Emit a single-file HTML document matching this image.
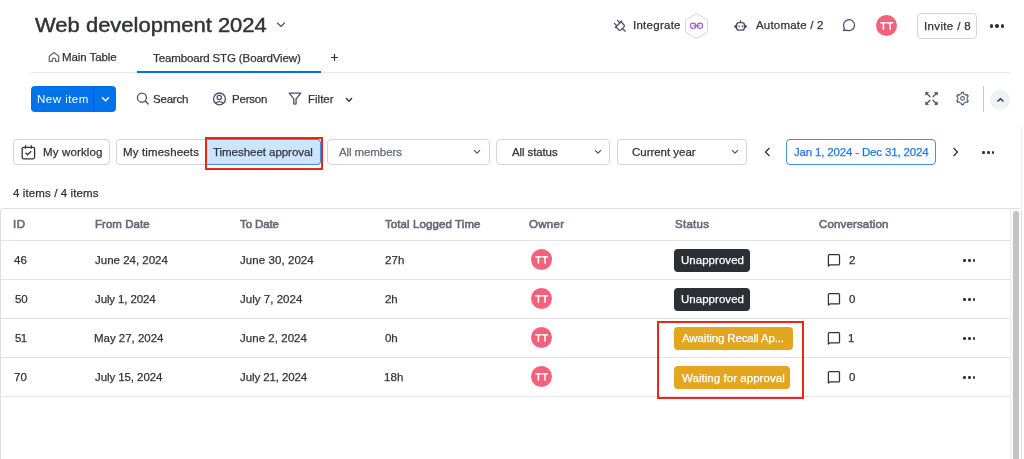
<!DOCTYPE html>
<html><head><meta charset="utf-8">
<style>
*{box-sizing:border-box;margin:0;padding:0}
html,body{width:1024px;height:459px;overflow:hidden;background:#fff;font-family:"Liberation Sans",sans-serif;color:#323338}
.a{position:absolute}
.tx{will-change:transform;position:absolute;white-space:nowrap;line-height:30px;height:30px;-webkit-text-stroke:0.25px currentColor}
svg{position:absolute;overflow:visible}
.box{position:absolute;border:1px solid #d2d5e0;border-radius:4px;background:#fff}
.badge{position:absolute;border-radius:4px;height:23px}
.av{position:absolute;width:21px;height:21px;border-radius:50%;background:#f2627c}
.hl{position:absolute;left:1px;width:1009px;height:1px;background:#e0e2eb}
.dots{position:absolute}
.dots i{position:absolute;width:2.7px;height:2.7px;border-radius:50%;background:#323338;top:0}
</style></head><body>

<!-- Title chevron -->
<svg style="left:276px;top:21px" width="10" height="7" viewBox="0 0 10 7"><path d="M1.2 1.8 L5 5.4 L8.8 1.8" fill="none" stroke="#4b4e69" stroke-width="1.3"/></svg>

<!-- Top right -->
<svg style="left:611px;top:17px" width="18" height="18" viewBox="0 0 18 18"><g fill="none" stroke="#4b4e69" stroke-width="1.25" stroke-linecap="round" stroke-linejoin="round"><path d="M4.4 10.5 L10.6 4.0"/><path d="M9.9 4.7 L12.9 7.7 Q13.9 8.9 12.9 10.1 L10.2 12.8 Q9 13.9 7.8 12.9 L4.9 10.0"/><path d="M6.4 3.4 L8.3 5.3"/><path d="M3.4 6.4 L5.3 8.3"/><path d="M11.7 11.7 L14.2 14.2"/></g></svg>
<svg style="left:685px;top:13px" width="24" height="26" viewBox="0 0 24 26"><path d="M11.5 0.6 L22.4 6.8 L22.4 19.2 L11.5 25.4 L0.6 19.2 L0.6 6.8z" fill="#fff" stroke="#d5d3ec" stroke-width="1"/><g fill="none" stroke="#a358df" stroke-width="1.1"><circle cx="8.1" cy="12.8" r="2.7"/><circle cx="14.9" cy="12.8" r="2.7"/><path d="M8.1 12.8 H14.9"/></g></svg>
<svg style="left:730px;top:17px" width="20" height="18" viewBox="0 0 20 18"><g fill="none" stroke="#4b4e69" stroke-width="1.35"><rect x="6.6" y="5.6" width="7.8" height="7.5" rx="2.4"/><path d="M10.5 3.3 V5.5"/></g><path d="M6 7.8 Q4.2 8 4.2 9.45 Q4.2 10.9 6 11.1 Z M15 7.8 Q16.9 8 16.9 9.45 Q16.9 10.9 15 11.1 Z" fill="#4b4e69"/><ellipse cx="9.2" cy="9.3" rx="0.7" ry="1.15" fill="#4b4e69"/><ellipse cx="12.3" cy="9.3" rx="0.7" ry="1.15" fill="#4b4e69"/></svg>
<svg style="left:838px;top:15px" width="22" height="21" viewBox="0 0 22 21"><path d="M6.4 13.1 A5.5 5.5 0 1 1 8.6 15.1 L5.6 15.6 Z" fill="none" stroke="#4b4e69" stroke-width="1.25" stroke-linejoin="round"/></svg>
<div class="av" style="left:876px;top:15px;"></div>
<svg style="left:876px;top:15px" width="21" height="21" viewBox="0 0 21 21"><g fill="#fff"><rect x="4.3" y="7.1" width="6.2" height="1.5"/><rect x="6.65" y="7.1" width="1.55" height="7.6"/><rect x="10.9" y="7.1" width="6.2" height="1.5"/><rect x="13.25" y="7.1" width="1.55" height="7.6"/></g></svg>
<div class="box" style="left:917px;top:13px;width:60px;height:26px;"></div>
<div class="dots" style="left:989.8px;top:24.3px"><i style="left:0;width:3.3px;height:3.3px"></i><i style="left:5.7px;width:3.3px;height:3.3px"></i><i style="left:11.4px;width:3.3px;height:3.3px"></i></div>

<!-- Tabs -->
<svg style="left:44px;top:48px" width="20" height="18" viewBox="0 0 20 18"><path d="M5.3 13.3 V8.3 L10 4.6 L14.7 8.3 V13.3 H11.6 V11.4 Q11.6 10.1 10 10.1 Q8.4 10.1 8.4 11.4 V13.3 Z" fill="none" stroke="#676879" stroke-width="1.3" stroke-linejoin="round"/></svg>
<svg style="left:331px;top:54px" width="7" height="7" viewBox="0 0 7 7"><path d="M3.5 0 V7 M0 3.5 H7" stroke="#323338" stroke-width="1.2"/></svg>
<div class="a" style="left:31px;top:72px;width:979px;height:1px;background:#e6e9ef"></div>
<div class="a" style="left:137px;top:71px;width:184px;height:2px;background:#0073ea"></div>

<!-- Toolbar -->
<div class="a" style="left:31px;top:86px;width:85px;height:26px;background:#0073ea;border-radius:4px"></div>
<div class="a" style="left:93px;top:86px;width:1px;height:26px;background:#0060b9"></div>
<svg style="left:101px;top:96px" width="9" height="6" viewBox="0 0 9 6"><path d="M1 1.2 L4.5 4.7 L8 1.2" fill="none" stroke="#fff" stroke-width="1.5"/></svg>

<svg style="left:132px;top:88px" width="20" height="20" viewBox="0 0 20 20"><g fill="none" stroke="#4b4e69" stroke-width="1.3" stroke-linecap="round"><circle cx="9.9" cy="9.7" r="4.5"/><path d="M13.2 13 L16.2 16"/></g></svg>
<svg style="left:208px;top:88px" width="22" height="22" viewBox="0 0 22 22"><g fill="none" stroke="#4b4e69" stroke-width="1.3"><circle cx="11.5" cy="10.9" r="5.9"/><circle cx="11.25" cy="9.5" r="2.1"/><path d="M7.6 15.2 Q11.3 12.2 15.2 15.2"/></g></svg>
<svg style="left:285px;top:88px" width="22" height="22" viewBox="0 0 22 22"><path d="M4.2 5.1 H15.8 L11.1 10.8 V15.6 Q11.1 16.2 9.95 16.2 Q8.8 16.2 8.8 15.6 V10.8 Z" fill="none" stroke="#4b4e69" stroke-width="1.3" stroke-linejoin="round"/></svg>
<svg style="left:345px;top:97px" width="8" height="6" viewBox="0 0 8 6"><path d="M1 1 L4 4.2 L7 1" fill="none" stroke="#323338" stroke-width="1.3"/></svg>

<svg style="left:924.8px;top:92.1px" width="13" height="13" viewBox="0 0 12.2 12.65"><g stroke="#4b4e69" stroke-width="1.2" stroke-linecap="round"><path d="M1.5 1.5 L4.6 4.6 M10.7 1.5 L7.6 4.6 M1.5 11.15 L4.6 8.05 M10.7 11.15 L7.6 8.05"/></g><g fill="#4b4e69" stroke="#4b4e69" stroke-width="0.5" stroke-linejoin="round"><path d="M0.3 0.3 H3.2 L0.3 3.2Z M11.9 0.3 H9 L11.9 3.2Z M0.3 12.35 H3.2 L0.3 9.45Z M11.9 12.35 H9 L11.9 9.45Z"/></g></svg>
<svg style="left:955.8px;top:92.1px" width="13" height="13" viewBox="0 0 12.2 12.6"><g fill="none" stroke="#5f6278" stroke-width="1.1" stroke-linejoin="round"><path d="M3.75 2.23 L5.04 1.72 L5.16 0.37 L7.04 0.37 L7.16 1.72 L8.45 2.23 L9.54 3.09 L10.76 2.52 L11.70 4.15 L10.59 4.93 L10.80 6.30 L10.59 7.67 L11.70 8.45 L10.76 10.08 L9.54 9.51 L8.45 10.37 L7.16 10.88 L7.04 12.23 L5.16 12.23 L5.04 10.88 L3.75 10.37 L2.66 9.51 L1.44 10.08 L0.50 8.45 L1.61 7.67 L1.40 6.30 L1.61 4.93 L0.50 4.15 L1.44 2.52 L2.66 3.09 Z"/><circle cx="6.1" cy="6.3" r="1.8"/></g></svg>
<div class="a" style="left:983px;top:86px;width:1px;height:26px;background:#c3c6d4"></div>
<div class="a" style="left:990px;top:89.5px;width:20px;height:20px;border-radius:50%;background:#f0f1f6"></div>
<svg style="left:996px;top:97px" width="9" height="6" viewBox="0 0 9 6"><path d="M1.5 4.6 L4.5 1.7 L7.5 4.6" fill="none" stroke="#323338" stroke-width="1.4"/></svg>

<!-- Filters row -->
<div class="box" style="left:13px;top:139.2px;width:97px;height:26.2px;"></div>
<svg style="left:21px;top:145px" width="15" height="15" viewBox="0 0 15 15"><g fill="none" stroke="#323338" stroke-width="1.3"><rect x="1.2" y="2.3" width="12.4" height="11.5" rx="1.5"/><path d="M4.5 0.3 V3.8 M10.3 0.3 V3.8"/><path d="M4.6 7.8 L6.6 9.8 L10.2 6.2"/></g></svg>
<div class="box" style="left:116px;top:139.2px;width:100px;height:26.2px;border-right:none;border-radius:4px 0 0 4px"></div>
<div class="a" style="left:205px;top:139.2px;width:115.5px;height:26.3px;background:#cce5ff;border:1px solid #3d8ef0;border-left:none;border-radius:0 4px 4px 0"></div>
<div class="a" style="left:204.5px;top:137.3px;width:118.5px;height:33.2px;border:2px solid #ef2614"></div>

<div class="box" style="left:327px;top:139.2px;width:163px;height:26.2px;"></div>
<svg style="left:473px;top:149px" width="8" height="6" viewBox="0 0 8 6"><path d="M1 1.2 L4 4.2 L7 1.2" fill="none" stroke="#4b4e69" stroke-width="1.15"/></svg>
<div class="box" style="left:496px;top:139.2px;width:114px;height:26.2px;"></div>
<svg style="left:594px;top:149px" width="8" height="6" viewBox="0 0 8 6"><path d="M1 1.2 L4 4.2 L7 1.2" fill="none" stroke="#4b4e69" stroke-width="1.15"/></svg>
<div class="box" style="left:617px;top:139.2px;width:130px;height:26.2px;"></div>
<svg style="left:731px;top:149px" width="8" height="6" viewBox="0 0 8 6"><path d="M1 1.2 L4 4.2 L7 1.2" fill="none" stroke="#4b4e69" stroke-width="1.15"/></svg>
<svg style="left:764px;top:147px" width="7" height="10" viewBox="0 0 7 10"><path d="M5.5 1 L1.5 5 L5.5 9" fill="none" stroke="#323338" stroke-width="1.3"/></svg>
<div class="a" style="left:786.3px;top:139px;width:149.3px;height:26px;border:1px solid #4190ee;border-radius:4px"></div>
<svg style="left:952px;top:147px" width="7" height="10" viewBox="0 0 7 10"><path d="M1.5 1 L5.5 5 L1.5 9" fill="none" stroke="#323338" stroke-width="1.3"/></svg>
<div class="dots" style="left:982.1px;top:151.1px"><i style="left:0"></i><i style="left:4.8px"></i><i style="left:9.6px"></i></div>

<!-- Table -->
<div class="a" style="left:1021px;top:126px;width:1px;height:82px;background:#f0f0f2"></div>
<div class="a" style="left:0px;top:208px;width:1022px;height:260px;border:1px solid #dcdfe9;border-bottom:none;border-radius:4px 4px 0 0"></div>
<div class="hl" style="top:240px"></div>
<div class="hl" style="top:279px"></div>
<div class="hl" style="top:318px"></div>
<div class="hl" style="top:357px"></div>
<div class="hl" style="top:396px"></div>
<div class="a" style="left:1010px;top:209px;width:11px;height:250px;background:#fbfbfb;border-left:1px solid #ececec"></div>
<div class="a" style="left:1012.7px;top:210.5px;width:6.4px;height:260px;background:#c2c2c2;border-radius:3.2px"></div>

<div class="av" style="left:530.5px;top:249.3px"></div>
<div class="av" style="left:530.5px;top:288.3px"></div>
<div class="av" style="left:530.5px;top:327.3px"></div>
<div class="av" style="left:530.5px;top:366.3px"></div>
<svg style="left:530.5px;top:249.3px" width="21" height="21" viewBox="0 0 21 21"><g fill="#fff"><rect x="4.3" y="7.1" width="6.2" height="1.5"/><rect x="6.65" y="7.1" width="1.55" height="7.6"/><rect x="10.9" y="7.1" width="6.2" height="1.5"/><rect x="13.25" y="7.1" width="1.55" height="7.6"/></g></svg>
<svg style="left:530.5px;top:288.3px" width="21" height="21" viewBox="0 0 21 21"><g fill="#fff"><rect x="4.3" y="7.1" width="6.2" height="1.5"/><rect x="6.65" y="7.1" width="1.55" height="7.6"/><rect x="10.9" y="7.1" width="6.2" height="1.5"/><rect x="13.25" y="7.1" width="1.55" height="7.6"/></g></svg>
<svg style="left:530.5px;top:327.3px" width="21" height="21" viewBox="0 0 21 21"><g fill="#fff"><rect x="4.3" y="7.1" width="6.2" height="1.5"/><rect x="6.65" y="7.1" width="1.55" height="7.6"/><rect x="10.9" y="7.1" width="6.2" height="1.5"/><rect x="13.25" y="7.1" width="1.55" height="7.6"/></g></svg>
<svg style="left:530.5px;top:366.3px" width="21" height="21" viewBox="0 0 21 21"><g fill="#fff"><rect x="4.3" y="7.1" width="6.2" height="1.5"/><rect x="6.65" y="7.1" width="1.55" height="7.6"/><rect x="10.9" y="7.1" width="6.2" height="1.5"/><rect x="13.25" y="7.1" width="1.55" height="7.6"/></g></svg>

<div class="badge" style="left:674px;top:249px;width:76px;background:#2e2f35"></div>
<div class="badge" style="left:674px;top:288px;width:76px;background:#2e2f35"></div>
<div class="badge" style="left:674px;top:327px;width:119px;background:#e2a61f"></div>
<div class="badge" style="left:674px;top:366px;width:116px;background:#e2a61f"></div>
<div class="a" style="left:657px;top:321px;width:147px;height:78px;border:2px solid #ef2614"></div>

<svg style="left:827px;top:253px" width="14" height="14" viewBox="0 0 14 14"><path d="M1.4 13 V2.5 Q1.4 1.6 2.3 1.6 H11.6 Q12.5 1.6 12.5 2.5 V11 Q12.5 11.9 11.6 11.9 H2.8 Z" fill="none" stroke="#323338" stroke-width="1.25" stroke-linejoin="round"/></svg>
<svg style="left:827px;top:292px" width="14" height="14" viewBox="0 0 14 14"><path d="M1.4 13 V2.5 Q1.4 1.6 2.3 1.6 H11.6 Q12.5 1.6 12.5 2.5 V11 Q12.5 11.9 11.6 11.9 H2.8 Z" fill="none" stroke="#323338" stroke-width="1.25" stroke-linejoin="round"/></svg>
<svg style="left:827px;top:331px" width="14" height="14" viewBox="0 0 14 14"><path d="M1.4 13 V2.5 Q1.4 1.6 2.3 1.6 H11.6 Q12.5 1.6 12.5 2.5 V11 Q12.5 11.9 11.6 11.9 H2.8 Z" fill="none" stroke="#323338" stroke-width="1.25" stroke-linejoin="round"/></svg>
<svg style="left:827px;top:370px" width="14" height="14" viewBox="0 0 14 14"><path d="M1.4 13 V2.5 Q1.4 1.6 2.3 1.6 H11.6 Q12.5 1.6 12.5 2.5 V11 Q12.5 11.9 11.6 11.9 H2.8 Z" fill="none" stroke="#323338" stroke-width="1.25" stroke-linejoin="round"/></svg>

<div class="dots" style="left:963.2px;top:259.2px"><i style="left:0"></i><i style="left:4.8px"></i><i style="left:9.6px"></i></div>
<div class="dots" style="left:963.2px;top:298.2px"><i style="left:0"></i><i style="left:4.8px"></i><i style="left:9.6px"></i></div>
<div class="dots" style="left:963.2px;top:337.2px"><i style="left:0"></i><i style="left:4.8px"></i><i style="left:9.6px"></i></div>
<div class="dots" style="left:963.2px;top:376.2px"><i style="left:0"></i><i style="left:4.8px"></i><i style="left:9.6px"></i></div>

<div class="tx" style="left:35.10px;top:9.97px;font-size:20px;font-weight:400;color:#323338;letter-spacing:0.000px;transform:scaleX(1.0991);transform-origin:0px 0;-webkit-text-stroke:0.45px #323338;">Web development 2024</div>
<div class="tx" style="left:632.60px;top:10.32px;font-size:11.5px;font-weight:400;color:#323338;letter-spacing:0.263px;">Integrate</div>
<div class="tx" style="left:755.50px;top:10.32px;font-size:11.5px;font-weight:400;color:#323338;letter-spacing:0.191px;">Automate / 2</div>
<div class="tx" style="left:923.80px;top:10.72px;font-size:11.5px;font-weight:400;color:#323338;letter-spacing:0.356px;">Invite / 8</div>
<div class="tx" style="left:62.40px;top:42.12px;font-size:11.5px;font-weight:400;color:#323338;letter-spacing:-0.089px;">Main Table</div>
<div class="tx" style="left:153.40px;top:43.12px;font-size:11.5px;font-weight:400;color:#323338;letter-spacing:-0.121px;">Teamboard STG (BoardView)</div>
<div class="tx" style="left:36.60px;top:84.32px;font-size:11.5px;font-weight:400;color:#fff;letter-spacing:0.486px;-webkit-text-stroke:0;">New item</div>
<div class="tx" style="left:152.90px;top:84.22px;font-size:11.5px;font-weight:400;color:#323338;letter-spacing:-0.220px;">Search</div>
<div class="tx" style="left:232.00px;top:83.92px;font-size:11.5px;font-weight:400;color:#323338;letter-spacing:-0.200px;">Person</div>
<div class="tx" style="left:307.70px;top:83.92px;font-size:11.5px;font-weight:400;color:#323338;letter-spacing:0.000px;">Filter</div>
<div class="tx" style="left:42.50px;top:136.52px;font-size:11.5px;font-weight:400;color:#323338;letter-spacing:0.139px;">My worklog</div>
<div class="tx" style="left:122.60px;top:136.52px;font-size:11.5px;font-weight:400;color:#323338;letter-spacing:0.150px;">My timesheets</div>
<div class="tx" style="left:213.00px;top:136.92px;font-size:11.5px;font-weight:400;color:#323338;letter-spacing:-0.041px;">Timesheet approval</div>
<div class="tx" style="left:339.00px;top:136.52px;font-size:11.5px;font-weight:400;color:#676879;letter-spacing:-0.100px;">All members</div>
<div class="tx" style="left:512.00px;top:136.52px;font-size:11.5px;font-weight:400;color:#323338;letter-spacing:-0.111px;">All status</div>
<div class="tx" style="left:632.30px;top:136.52px;font-size:11.5px;font-weight:400;color:#323338;letter-spacing:-0.027px;">Current year</div>
<div class="tx" style="left:793.60px;top:136.52px;font-size:11.5px;font-weight:400;color:#1f76de;letter-spacing:-0.168px;">Jan 1, 2024 - Dec 31, 2024</div>
<div class="tx" style="left:13.20px;top:177.52px;font-size:11.5px;font-weight:400;color:#323338;letter-spacing:0.112px;">4 items / 4 items</div>
<div class="tx" style="left:13.00px;top:209.42px;font-size:11.5px;font-weight:400;color:#676879;letter-spacing:0.600px;-webkit-text-stroke:0.6px #676879;">ID</div>
<div class="tx" style="left:94.70px;top:209.42px;font-size:11.5px;font-weight:400;color:#676879;letter-spacing:0.037px;-webkit-text-stroke:0.6px #676879;">From Date</div>
<div class="tx" style="left:240.20px;top:209.42px;font-size:11.5px;font-weight:400;color:#676879;letter-spacing:-0.117px;-webkit-text-stroke:0.6px #676879;">To Date</div>
<div class="tx" style="left:385.30px;top:209.42px;font-size:11.5px;font-weight:400;color:#676879;letter-spacing:0.094px;-webkit-text-stroke:0.6px #676879;">Total Logged Time</div>
<div class="tx" style="left:529.30px;top:209.42px;font-size:11.5px;font-weight:400;color:#676879;letter-spacing:0.300px;-webkit-text-stroke:0.6px #676879;">Owner</div>
<div class="tx" style="left:674.70px;top:209.42px;font-size:11.5px;font-weight:400;color:#676879;letter-spacing:0.280px;-webkit-text-stroke:0.6px #676879;">Status</div>
<div class="tx" style="left:819.40px;top:209.42px;font-size:11.5px;font-weight:400;color:#676879;letter-spacing:0.145px;-webkit-text-stroke:0.6px #676879;">Conversation</div>
<div class="tx" style="left:14.30px;top:245.32px;font-size:11.5px;font-weight:400;color:#323338;letter-spacing:0.000px;">46</div>
<div class="tx" style="left:95.20px;top:245.32px;font-size:11.5px;font-weight:400;color:#323338;letter-spacing:-0.000px;">June 24, 2024</div>
<div class="tx" style="left:240.00px;top:245.32px;font-size:11.5px;font-weight:400;color:#323338;letter-spacing:0.067px;">June 30, 2024</div>
<div class="tx" style="left:384.70px;top:245.32px;font-size:11.5px;font-weight:400;color:#323338;letter-spacing:0.150px;">27h</div>
<div class="tx" style="left:14.50px;top:284.22px;font-size:11.5px;font-weight:400;color:#323338;letter-spacing:-0.200px;">50</div>
<div class="tx" style="left:95.20px;top:284.22px;font-size:11.5px;font-weight:400;color:#323338;letter-spacing:-0.118px;">July 1, 2024</div>
<div class="tx" style="left:240.00px;top:284.22px;font-size:11.5px;font-weight:400;color:#323338;letter-spacing:0.027px;">July 7, 2024</div>
<div class="tx" style="left:385.00px;top:284.22px;font-size:11.5px;font-weight:400;color:#323338;letter-spacing:-0.100px;">2h</div>
<div class="tx" style="left:14.50px;top:323.32px;font-size:11.5px;font-weight:400;color:#323338;letter-spacing:-0.700px;">51</div>
<div class="tx" style="left:94.20px;top:323.32px;font-size:11.5px;font-weight:400;color:#323338;letter-spacing:-0.018px;">May 27, 2024</div>
<div class="tx" style="left:240.00px;top:323.32px;font-size:11.5px;font-weight:400;color:#323338;letter-spacing:0.036px;">June 2, 2024</div>
<div class="tx" style="left:385.00px;top:323.32px;font-size:11.5px;font-weight:400;color:#323338;letter-spacing:-0.100px;">0h</div>
<div class="tx" style="left:14.30px;top:362.32px;font-size:11.5px;font-weight:400;color:#323338;letter-spacing:0.000px;">70</div>
<div class="tx" style="left:95.00px;top:362.32px;font-size:11.5px;font-weight:400;color:#323338;letter-spacing:-0.083px;">July 15, 2024</div>
<div class="tx" style="left:240.00px;top:362.32px;font-size:11.5px;font-weight:400;color:#323338;letter-spacing:-0.100px;">July 21, 2024</div>
<div class="tx" style="left:384.00px;top:362.32px;font-size:11.5px;font-weight:400;color:#323338;letter-spacing:0.100px;">18h</div>
<div class="tx" style="left:681.00px;top:244.92px;font-size:11.5px;font-weight:400;color:#fff;letter-spacing:0.033px;">Unapproved</div>
<div class="tx" style="left:681.00px;top:283.92px;font-size:11.5px;font-weight:400;color:#fff;letter-spacing:0.033px;">Unapproved</div>
<div class="tx" style="left:681.80px;top:323.42px;font-size:11.5px;font-weight:400;color:#fff;letter-spacing:-0.130px;">Awaiting Recall Ap...</div>
<div class="tx" style="left:681.80px;top:362.62px;font-size:11.5px;font-weight:400;color:#fff;letter-spacing:0.047px;">Waiting for approval</div>
<div class="tx" style="left:849.00px;top:244.72px;font-size:11.5px;font-weight:400;color:#323338;letter-spacing:0.000px;">2</div>
<div class="tx" style="left:849.00px;top:283.72px;font-size:11.5px;font-weight:400;color:#323338;letter-spacing:0.000px;">0</div>
<div class="tx" style="left:848.00px;top:322.72px;font-size:11.5px;font-weight:400;color:#323338;letter-spacing:0.000px;">1</div>
<div class="tx" style="left:849.00px;top:361.72px;font-size:11.5px;font-weight:400;color:#323338;letter-spacing:0.000px;">0</div>
</body></html>
